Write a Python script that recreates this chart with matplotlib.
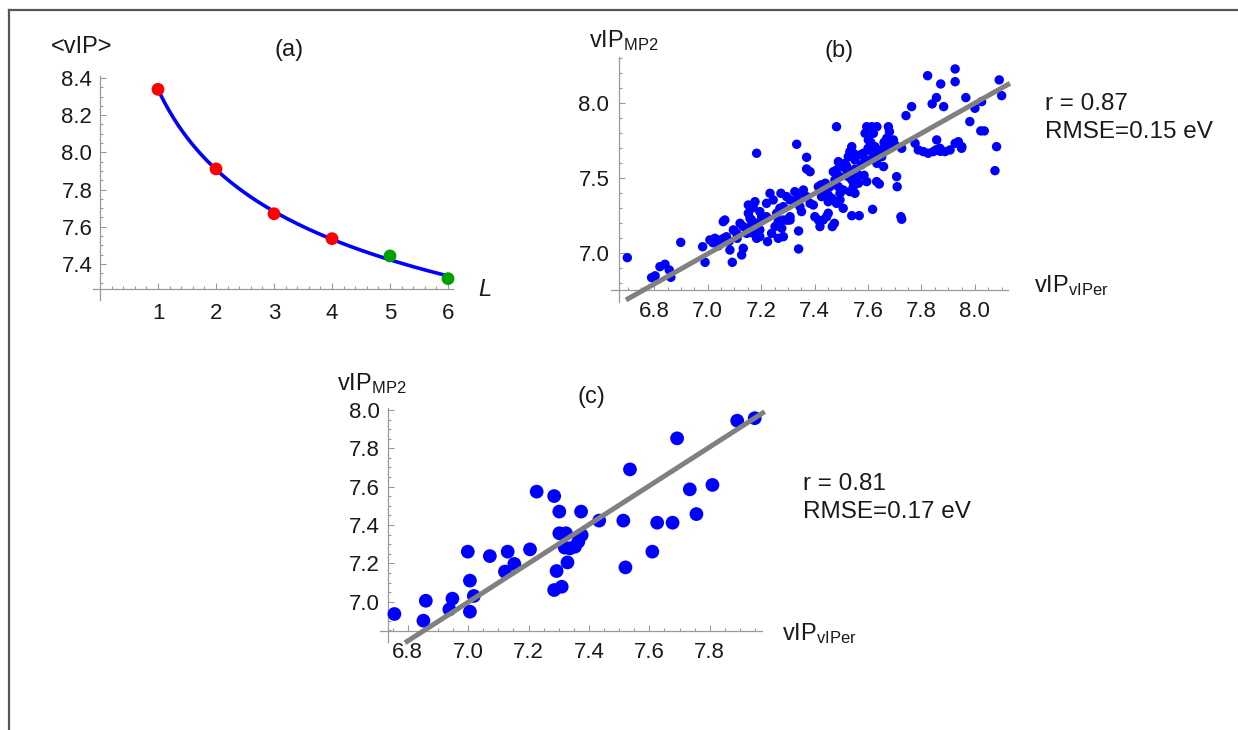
import numpy as np
import matplotlib
matplotlib.use("Agg")
import matplotlib.pyplot as plt
from matplotlib.ticker import FixedLocator, FormatStrFormatter
from matplotlib.lines import Line2D

plt.rcParams['font.family'] = ['Liberation Sans', 'DejaVu Sans']
plt.rcParams['mathtext.fontset'] = 'custom'
plt.rcParams['mathtext.rm'] = 'Liberation Sans'
plt.rcParams['mathtext.it'] = 'Liberation Sans:italic'

# ---------------- data ----------------
# panel (a)
a_L = [1, 2, 3, 4, 5, 6]
a_vip = [8.339, 7.911, 7.670, 7.536, 7.443, 7.321]
a_colors = ['#ff0000', '#ff0000', '#ff0000', '#ff0000', '#00a000', '#00a000']

# panel (b)
b_x = [6.699, 6.790, 6.803, 6.821, 6.840, 6.856, 6.862, 6.899, 6.981, 6.990,
       7.008, 7.027, 7.040, 7.058, 7.064, 7.083, 7.092, 7.108, 7.096, 7.127,
       7.133, 7.121, 7.133, 7.152, 7.158, 7.164, 7.146, 7.170, 7.183, 7.177,
       7.170, 7.183, 7.195, 7.202, 7.195, 7.195, 7.224, 7.220, 7.233, 7.245,
       7.239, 7.252, 7.264, 7.277, 7.283, 7.274, 7.295, 7.308, 7.308, 7.308,
       7.333, 7.326, 7.345, 7.358, 7.333, 7.345, 7.351, 7.340, 7.340, 7.370,
       7.370, 7.383, 7.370, 7.383, 7.395, 7.401, 7.414, 7.420, 7.432, 7.445,
       7.451, 7.424, 7.440, 7.451, 7.457, 7.466, 7.474, 7.482, 7.470, 7.482,
       7.476, 7.489, 7.495, 7.495, 7.507, 7.507, 7.482, 7.495, 7.489, 7.501,
       7.514, 7.520, 7.526, 7.532, 7.539, 7.545, 7.551, 7.526, 7.539, 7.545,
       7.551, 7.532, 7.558, 7.564, 7.539, 7.567, 7.570, 7.583, 7.589, 7.595,
       7.589, 7.595, 7.601, 7.614, 7.620, 7.626, 7.633, 7.639, 7.614, 7.620,
       7.633, 7.617, 7.632, 7.642, 7.651, 7.658, 7.664, 7.670, 7.676, 7.680,
       7.682, 7.689, 7.695, 7.701, 7.707, 7.709, 7.723, 7.726, 7.726, 7.742,
       7.763, 7.776, 7.788, 7.807, 7.825, 7.844, 7.857, 7.869, 7.888, 7.907,
       7.926, 7.938, 7.951, 7.823, 7.840, 7.856, 7.872, 7.883, 7.926, 7.926,
       7.966, 7.981, 8.000, 8.025, 8.022, 8.035, 8.075, 8.081, 8.091, 8.100,
       7.020, 7.040, 7.050, 7.060, 7.070, 7.080, 7.100, 7.110, 7.164, 7.183,
       7.202, 7.220, 7.258, 7.270, 7.283, 7.264, 7.283, 7.295, 7.300, 7.152,
       7.164, 7.414, 7.426, 7.439, 7.451, 7.464, 7.855, 7.870, 7.950, 7.600,
       7.520, 7.535, 7.550, 7.560, 7.575, 7.585, 7.600, 7.610, 7.650, 7.660]
b_y = [6.971, 6.838, 6.850, 6.911, 6.927, 6.889, 6.840, 7.073, 7.044, 6.940,
       7.089, 7.100, 7.078, 7.211, 7.222, 7.022, 6.940, 7.133, 7.156, 6.989,
       7.033, 7.200, 7.178, 7.267, 7.233, 7.222, 7.133, 7.133, 7.100, 7.344,
       7.311, 7.667, 7.278, 7.222, 7.156, 7.111, 7.078, 7.333, 7.400, 7.356,
       7.133, 7.178, 7.211, 7.167, 7.222, 7.400, 7.378, 7.356, 7.244, 7.222,
       7.727, 7.411, 7.400, 7.422, 7.356, 7.311, 7.278, 7.149, 7.029, 7.640,
       7.562, 7.544, 7.378, 7.333, 7.322, 7.244, 7.222, 7.178, 7.222, 7.244,
       7.267, 7.456, 7.467, 7.389, 7.444, 7.178, 7.200, 7.844, 7.544, 7.556,
       7.489, 7.444, 7.511, 7.400, 7.422, 7.300, 7.333, 7.356, 7.611, 7.578,
       7.600, 7.556, 7.644, 7.678, 7.711, 7.667, 7.622, 7.511, 7.489, 7.444,
       7.400, 7.411, 7.533, 7.467, 7.251, 7.251, 7.656, 7.667, 7.611, 7.478,
       7.800, 7.844, 7.756, 7.844, 7.800, 7.711, 7.844, 7.667, 7.678, 7.633,
       7.600, 7.293, 7.478, 7.462, 7.644, 7.578, 7.711, 7.767, 7.844, 7.811,
       7.711, 7.733, 7.756, 7.722, 7.511, 7.444, 7.244, 7.227, 7.700, 7.918,
       7.978, 7.733, 7.689, 7.678, 7.667, 7.678, 7.756, 7.700, 7.678, 7.689,
       7.733, 7.744, 7.711, 8.184, 7.996, 8.038, 8.129, 7.978, 8.229, 8.144,
       8.038, 7.878, 7.967, 8.011, 7.816, 7.816, 7.551, 7.711, 8.156, 8.051,
       7.070, 7.050, 7.090, 7.100, 7.110, 7.080, 7.150, 7.100, 7.189, 7.200,
       7.244, 7.244, 7.267, 7.300, 7.311, 7.100, 7.111, 7.222, 7.222, 7.322,
       7.300, 7.444, 7.378, 7.411, 7.344, 7.367, 7.690, 7.680, 7.700, 7.620,
       7.580, 7.530, 7.560, 7.480, 7.590, 7.520, 7.700, 7.740, 7.690, 7.740]
b_fit_x = [6.694, 8.131]
b_fit_y = [6.689, 8.133]

# panel (c)
c_x = [6.756, 6.852, 6.860, 6.938, 6.948, 6.999, 7.006, 7.006, 7.019, 7.072,
       7.131, 7.122, 7.153, 7.205, 7.227, 7.285, 7.302, 7.293, 7.285, 7.310,
       7.302, 7.324, 7.329, 7.320, 7.354, 7.365, 7.376, 7.374, 7.434, 7.514,
       7.536, 7.521, 7.610, 7.626, 7.677, 7.692, 7.734, 7.756, 7.809, 7.891,
       7.949, 7.337]
c_y = [6.936, 6.901, 7.005, 6.960, 7.016, 7.261, 7.110, 6.948, 7.030, 7.238,
       7.261, 7.157, 7.197, 7.273, 7.574, 7.551, 7.470, 7.160, 7.061, 7.078,
       7.357, 7.357, 7.205, 7.282, 7.287, 7.313, 7.348, 7.470, 7.423, 7.423,
       7.690, 7.179, 7.261, 7.412, 7.412, 7.852, 7.586, 7.457, 7.609, 7.944,
       7.957, 7.278]
c_fit_x = [6.791, 7.982]
c_fit_y = [6.786, 7.991]

a_xticks = [1, 2, 3, 4, 5, 6]
a_yticks = [7.4, 7.6, 7.8, 8.0, 8.2, 8.4]
b_xticks = [6.8, 7.0, 7.2, 7.4, 7.6, 7.8, 8.0]
b_yticks = [7.0, 7.5, 8.0]
c_xticks = [6.8, 7.0, 7.2, 7.4, 7.6, 7.8]
c_yticks = [7.0, 7.2, 7.4, 7.6, 7.8, 8.0]

# ---------------- figure ----------------
W, H = 1238, 730
fig = plt.figure(figsize=(W / 100, H / 100), dpi=100)
fig.patch.set_facecolor('white')

AX_COL = '#9a9a9a'
TXT_COL = '#1a1a1a'
TICK_FS = 16
LAB = 17
STAT_FS = 17.5


def add_axes_px(left, top, right, bottom):
    return fig.add_axes([left / W, 1 - bottom / H, (right - left) / W, (bottom - top) / H])


def fx(x):
    return x / W


def fy(y):
    return 1 - y / H


def style(ax, xlim, ylim, x0, y0, xbounds, ybounds, xmaj, ymaj, xmin, ymin,
          xfmt, yfmt, xpad, ypad):
    ax.set_xlim(*xlim)
    ax.set_ylim(*ylim)
    ax.patch.set_visible(False)
    for s in ['top', 'right']:
        ax.spines[s].set_visible(False)
    ax.spines['left'].set_position(('data', x0))
    ax.spines['bottom'].set_position(('data', y0))
    ax.spines['left'].set_bounds(*ybounds)
    ax.spines['bottom'].set_bounds(*xbounds)
    for s in ['left', 'bottom']:
        ax.spines[s].set_color(AX_COL)
        ax.spines[s].set_linewidth(0.9)
        ax.spines[s].set_zorder(0.5)
    ax.xaxis.set_major_locator(FixedLocator(xmaj))
    ax.yaxis.set_major_locator(FixedLocator(ymaj))
    ax.xaxis.set_minor_locator(FixedLocator(xmin))
    ax.yaxis.set_minor_locator(FixedLocator(ymin))
    ax.xaxis.set_major_formatter(FormatStrFormatter(xfmt))
    ax.yaxis.set_major_formatter(FormatStrFormatter(yfmt))
    ax.tick_params(which='both', direction='in', color=AX_COL, labelcolor=TXT_COL,
                   labelsize=TICK_FS, width=0.8)
    ax.tick_params(which='major', length=4.3)
    ax.tick_params(which='minor', length=2.3)
    ax.tick_params(axis='x', which='major', pad=xpad)
    ax.tick_params(axis='y', which='major', pad=ypad)


# ---- panel (a) ----
axa = add_axes_px(88.4, 68.7, 456.7, 303.0)
style(axa, (-0.2, 6.15), (7.19, 8.45), 0.0, 7.265, (-0.12, 6.09), (7.206, 8.41),
      a_xticks, a_yticks, np.round(np.arange(0.2, 6.01, 0.2), 2),
      np.round(np.arange(7.3, 8.41, 0.05), 2), '%d', '%.1f', 10.0, 5.5)

# fitted curve a + b * L^(-c), least squares on the six points
La = np.array(a_L, float)
Va = np.array(a_vip, float)
best = None
for c in np.linspace(0.05, 2.0, 400):
    A = np.vstack([np.ones_like(La), La ** (-c)]).T
    coef, res, *_ = np.linalg.lstsq(A, Va, rcond=None)
    err = np.sum((A @ coef - Va) ** 2)
    if best is None or err < best[0]:
        best = (err, c, coef)
_, cc, (ca, cb) = best
Lc = np.linspace(min(a_L), max(a_L), 200)
axa.plot(Lc, ca + cb * Lc ** (-cc), color='#0000ff', lw=2.6, zorder=2)
axa.scatter(a_L, a_vip, s=85, c=a_colors, edgecolors='none', zorder=3, clip_on=False)

# ---- panel (b) ----
axb = add_axes_px(606.2, 55.3, 1015.0, 304.3)
style(axb, (6.62, 8.15), (6.66, 8.32), 6.668, 6.755, (6.637, 8.124), (6.678, 8.307),
      b_xticks, b_yticks, np.round(np.arange(6.70, 8.11, 0.05), 2),
      np.round(np.arange(6.8, 8.31, 0.1), 2), '%.1f', '%.1f', 8.0, 7.0)
axb.scatter(b_x, b_y, s=46, c='#0000ff', edgecolors='none', zorder=2, clip_on=False)
axb.plot(b_fit_x, b_fit_y, color='#808080', lw=3.6, zorder=3, solid_capstyle='butt',
         clip_on=False)

# ---- panel (c) ----
axc = add_axes_px(377.5, 404.2, 767.1, 643.9)
style(axc, (6.70, 7.99), (6.78, 8.03), 6.734, 6.849, (6.708, 7.973), (6.792, 8.012),
      c_xticks, c_yticks, np.round(np.arange(6.75, 7.96, 0.05), 2),
      np.round(np.arange(6.85, 8.01, 0.05), 2), '%.1f', '%.1f', 8.5, 5.5)
axc.scatter(c_x, c_y, s=98, c='#0000ff', edgecolors='none', zorder=2, clip_on=False)
axc.plot(c_fit_x, c_fit_y, color='#808080', lw=3.6, zorder=3, solid_capstyle='butt',
         clip_on=False)

# ---------------- texts ----------------
fig.text(fx(51), fy(47), '<vIP>', fontsize=LAB, color=TXT_COL, ha='left', va='center')
fig.text(fx(289), fy(50), '(a)', fontsize=LAB, color=TXT_COL, ha='center', va='center')
fig.text(fx(478), fy(290), 'L', fontsize=LAB, style='italic', color=TXT_COL,
         ha='left', va='center')

fig.text(fx(589), fy(46.7), r'vIP$_{\mathrm{MP2}}$', fontsize=LAB, color=TXT_COL,
         ha='left', va='baseline')
fig.text(fx(839), fy(50.5), '(b)', fontsize=LAB, color=TXT_COL, ha='center', va='center')
fig.text(fx(1034), fy(291.7), r'vIP$_{\mathrm{vIPer}}$', fontsize=LAB, color=TXT_COL,
         ha='left', va='baseline')
fig.text(fx(1045), fy(110), 'r = 0.87', fontsize=STAT_FS, color=TXT_COL, ha='left',
         va='baseline')
fig.text(fx(1045), fy(138.3), 'RMSE=0.15 eV', fontsize=STAT_FS, color=TXT_COL, ha='left',
         va='baseline')

fig.text(fx(337), fy(390), r'vIP$_{\mathrm{MP2}}$', fontsize=LAB, color=TXT_COL,
         ha='left', va='baseline')
fig.text(fx(591.7), fy(396.7), '(c)', fontsize=LAB, color=TXT_COL, ha='center', va='center')
fig.text(fx(782.5), fy(640), r'vIP$_{\mathrm{vIPer}}$', fontsize=LAB, color=TXT_COL,
         ha='left', va='baseline')
fig.text(fx(803.3), fy(490), 'r = 0.81', fontsize=STAT_FS, color=TXT_COL, ha='left',
         va='baseline')
fig.text(fx(803.3), fy(518.3), 'RMSE=0.17 eV', fontsize=STAT_FS, color=TXT_COL, ha='left',
         va='baseline')

# outer frame (top and left edges)
fig.add_artist(Line2D([fx(9), fx(9)], [fy(10), 0], color='#555555', lw=1.6))
fig.add_artist(Line2D([fx(9), 1], [fy(10), fy(10)], color='#555555', lw=1.6))

fig.savefig('out.png', dpi=100, facecolor='white')
